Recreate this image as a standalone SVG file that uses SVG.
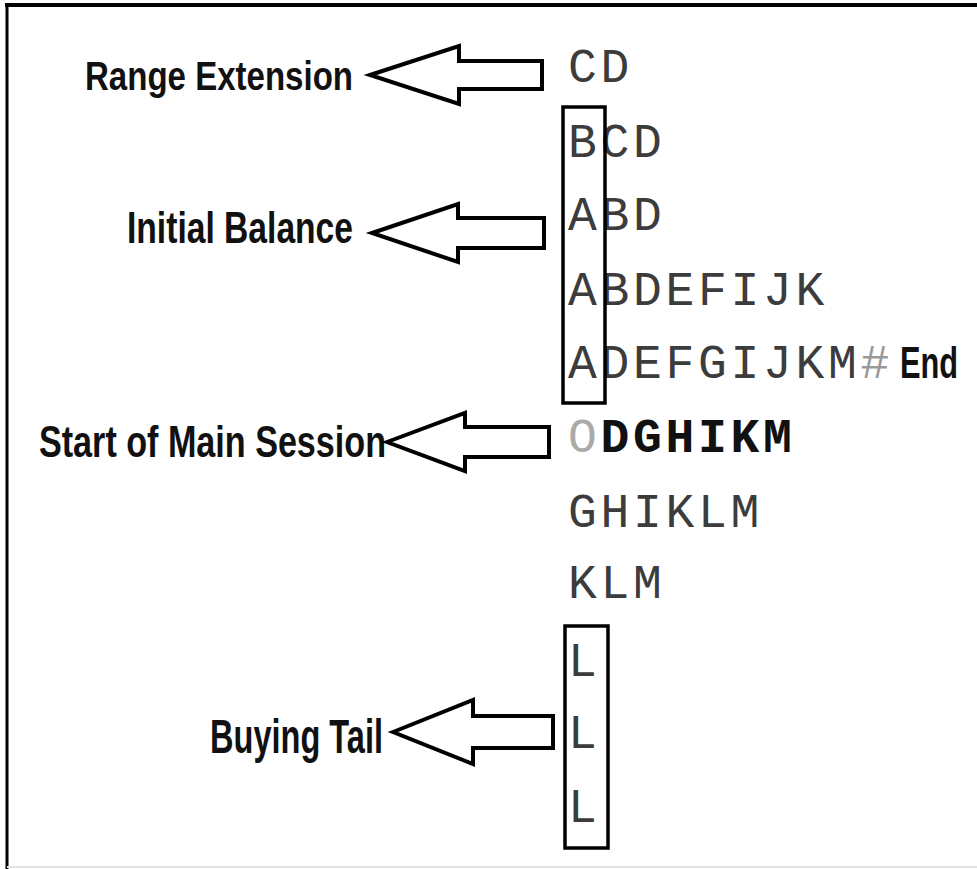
<svg xmlns="http://www.w3.org/2000/svg" width="977" height="869" viewBox="0 0 977 869">
<style>
.lbl{font-family:"Liberation Sans",Arial,sans-serif;font-weight:bold;fill:#111}
.mono{font-family:"Liberation Mono","Courier New",monospace;font-size:48px;letter-spacing:3.7px;fill:#3c3c3c}
.bold{font-weight:bold;fill:#111}
.arrow{fill:#fff;stroke:#000;stroke-width:4;stroke-linejoin:miter}
.box{fill:none;stroke:#000;stroke-width:3.5}
</style>
<rect width="977" height="869" fill="#fff"/>
<g id="frame">
<line x1="5" y1="5" x2="977" y2="5" stroke="#000" stroke-width="4"/>
<line x1="7" y1="5" x2="7" y2="869" stroke="#000" stroke-width="3"/>
<line x1="7" y1="867" x2="977" y2="867" stroke="#e4e4e4" stroke-width="2"/>
</g>
<g id="label-range-extension"><text class="lbl" x="85" y="90" font-size="40" textLength="268" lengthAdjust="spacingAndGlyphs">Range Extension</text></g>
<g id="label-initial-balance"><text class="lbl" x="127" y="243" font-size="45" textLength="226" lengthAdjust="spacingAndGlyphs">Initial Balance</text></g>
<g id="label-start-main"><text class="lbl" x="39" y="457" font-size="45" textLength="347" lengthAdjust="spacingAndGlyphs">Start of Main Session</text></g>
<g id="label-buying-tail"><text class="lbl" x="210" y="753" font-size="48" textLength="173" lengthAdjust="spacingAndGlyphs">Buying Tail</text></g>
<g id="rows">
<text class="mono" x="568" y="82">CD</text>
<text class="mono" x="568" y="157">BCD</text>
<text class="mono" x="568" y="230">ABD</text>
<text class="mono" x="568" y="305">ABDEFIJK</text>
<text class="mono" x="568" y="378">ADEFGIJKM<tspan fill="#999">#</tspan></text>
<g id="label-end" transform="translate(900,378) scale(0.7,1)"><text class="lbl" x="0" y="0" font-size="44">End</text></g>
<text class="mono" x="568" y="452"><tspan fill="#aaa">O</tspan><tspan class="bold">DGHIKM</tspan></text>
<text class="mono" x="568" y="527">GHIKLM</text>
<text class="mono" x="568" y="598">KLM</text>
<text class="mono" x="568" y="676">L</text>
<text class="mono" x="568" y="748">L</text>
<text class="mono" x="568" y="822">L</text>
</g>
<g id="box-initial-balance"><rect class="box" x="563" y="107" width="42" height="296"/></g>
<g id="box-buying-tail"><rect class="box" x="565" y="626" width="43" height="222"/></g>
<g id="connectors">
<polygon class="arrow" points="370,75 459,46 459,61 542,61 542,89 459,89 459,104"/>
<polygon class="arrow" points="372,233 458,204 458,218 544,218 544,248 458,248 458,262"/>
<polygon class="arrow" points="387,442 465,413 465,427 549,427 549,457 465,457 465,471"/>
<polygon class="arrow" points="393,732 473,700 473,716 553,716 553,748 473,748 473,764"/>
</g>
</svg>
